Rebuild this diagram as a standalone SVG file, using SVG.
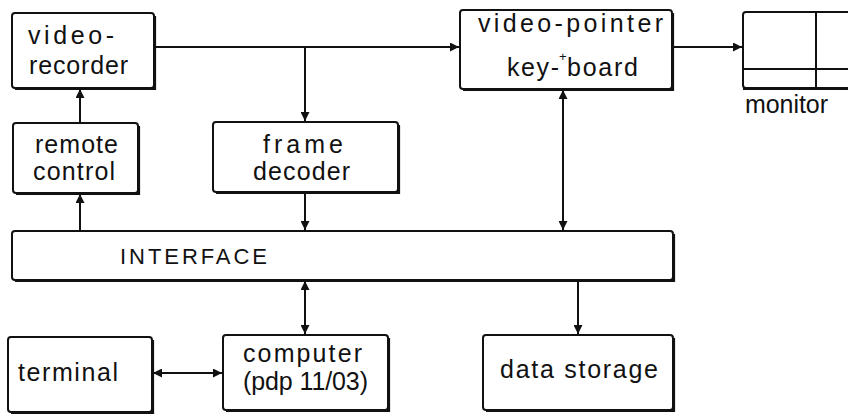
<svg xmlns="http://www.w3.org/2000/svg" width="848" height="415" viewBox="0 0 848 415">
<style>
.box{fill:#fff;stroke:#111;stroke-width:2}
.sh{fill:none;stroke:#111;stroke-width:2.2}
.t{font-family:"Liberation Sans",Arial,sans-serif;font-size:25px;fill:#111}
.c{stroke:#111;stroke-width:2;fill:none}
</style>
<defs>
<marker id="ah" viewBox="0 0 10 10" refX="10" refY="5" markerWidth="10" markerHeight="9" markerUnits="userSpaceOnUse" orient="auto-start-reverse">
<path d="M0,0 L10,5 L0,10 z" fill="#111"/>
</marker>
</defs>
<rect width="848" height="415" fill="#fff"/>
<g id="connectors">
<line class="c" x1="154" y1="47" x2="459" y2="47" marker-end="url(#ah)"/>
<line class="c" x1="305" y1="47" x2="305" y2="121" marker-end="url(#ah)"/>
<line class="c" x1="673" y1="47" x2="742" y2="47" marker-end="url(#ah)"/>
<line class="c" x1="80" y1="123" x2="80" y2="89" marker-end="url(#ah)"/>
<line class="c" x1="80" y1="231" x2="80" y2="194" marker-end="url(#ah)"/>
<line class="c" x1="305" y1="193" x2="305" y2="230" marker-end="url(#ah)"/>
<line class="c" x1="563" y1="90" x2="563" y2="230" marker-start="url(#ah)" marker-end="url(#ah)"/>
<line class="c" x1="305" y1="281" x2="305" y2="334" marker-start="url(#ah)" marker-end="url(#ah)"/>
<line class="c" x1="578" y1="281" x2="578" y2="334" marker-end="url(#ah)"/>
<line class="c" x1="153" y1="373" x2="222" y2="373" marker-start="url(#ah)" marker-end="url(#ah)"/>
</g>
<g id="video-recorder">
<rect class="box" x="12" y="13" width="142" height="75" rx="3"/>
<path class="sh" d="M155,16 V89 H15"/>
<text class="t" x="28" y="44" textLength="86">video-</text>
<text class="t" x="29" y="74" textLength="99">recorder</text>
</g>
<g id="video-pointer">
<rect class="box" x="460" y="10" width="212" height="79" rx="3"/>
<path class="sh" d="M673,13 V90 H463"/>
<text class="t" x="478" y="32" textLength="185">video-pointer</text>
<text class="t" x="507" y="76" textLength="52">key-</text>
<text class="t" x="567" y="76" textLength="71">board</text>
<text class="t" x="559" y="61" style="font-size:13px">+</text>
</g>
<g id="monitor">
<rect class="box" x="743" y="12" width="120" height="76" rx="3"/>
<path class="sh" d="M743,89 H863"/>
<line class="c" x1="816" y1="12" x2="816" y2="88"/>
<line class="c" x1="743" y1="69" x2="848" y2="69"/>
<text class="t" x="745" y="113" textLength="83">monitor</text>
</g>
<g id="remote-control">
<rect class="box" x="13" y="123" width="125" height="70" rx="3"/>
<path class="sh" d="M139,126 V194 H16"/>
<text class="t" x="35" y="153" textLength="83">remote</text>
<text class="t" x="33" y="180" textLength="82">control</text>
</g>
<g id="frame-decoder">
<rect class="box" x="213" y="122" width="185" height="70" rx="3"/>
<path class="sh" d="M399,125 V193 H216"/>
<text class="t" x="263" y="153" textLength="80">frame</text>
<text class="t" x="253" y="180" textLength="97">decoder</text>
</g>
<g id="interface">
<rect class="box" x="12" y="231" width="661" height="49" rx="3"/>
<path class="sh" d="M674,234 V281 H15"/>
<text class="t" x="120" y="264" style="font-size:22px" textLength="147">INTERFACE</text>
</g>
<g id="terminal">
<rect class="box" x="8" y="337" width="144" height="75" rx="3"/>
<path class="sh" d="M153,340 V413 H11"/>
<text class="t" x="18" y="381" textLength="100">terminal</text>
</g>
<g id="computer">
<rect class="box" x="223" y="335" width="165" height="75" rx="3"/>
<path class="sh" d="M389,338 V411 H226"/>
<text class="t" x="243" y="362" textLength="119">computer</text>
<text class="t" x="243" y="390" textLength="125">(pdp 11/03)</text>
</g>
<g id="data-storage">
<rect class="box" x="483" y="335" width="190" height="75" rx="3"/>
<path class="sh" d="M674,338 V411 H486"/>
<text class="t" x="500" y="378" textLength="158">data storage</text>
</g>
</svg>
